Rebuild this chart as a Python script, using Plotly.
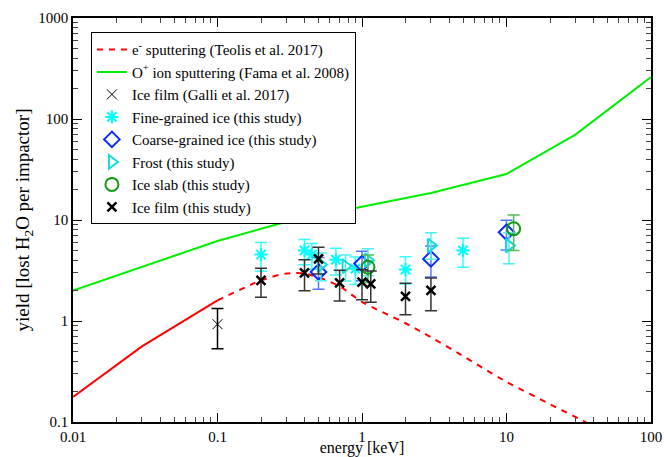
import plotly.graph_objects as go

# --- data ---
fama_x = [0.01, 0.1, 0.3, 1.0, 3.0, 10.0, 30.0, 100.0]
fama_y = [2.0, 6.2, 9.6, 13.5, 18.5, 28.5, 70.0, 260.0]

teolis_solid_x = [0.01, 0.03, 0.1]
teolis_solid_y = [0.177, 0.56, 1.6]
teolis_x = [0.1, 0.15, 0.2, 0.3, 0.4, 0.5, 0.7, 1.0, 2.0, 3.0, 5.0, 8.0, 10.0, 20.0, 35.0, 50.0]
teolis_y = [1.6, 2.1, 2.52, 2.95, 2.95, 2.7, 2.2, 1.55, 0.95, 0.69, 0.45, 0.30, 0.25, 0.15, 0.1, 0.075]

galli_x = [0.1]
galli_y = [0.93]
galli_up = [0.4]
galli_dn = [0.4]

fine_x = [0.2, 0.4, 0.45, 0.66, 0.9, 2.0, 5.0]
fine_y = [4.55, 5.0, 4.55, 4.05, 3.3, 3.23, 5.0]
fine_up = [1.45, 1.4, 1.3, 1.2, 1.0, 1.1, 1.6]
fine_dn = [1.45, 1.4, 1.3, 1.2, 1.0, 0.9, 1.6]

coarse_x = [0.5, 1.0, 3.0, 10.0]
coarse_y = [3.06, 3.7, 4.12, 7.56]
coarse_up = [1.2, 1.2, 1.4, 2.4]
coarse_dn = [1.0, 1.2, 1.4, 2.5]

frost_x = [0.52, 0.77, 1.1, 3.0, 10.4]
frost_y = [3.6, 3.49, 4.0, 5.58, 5.58]
frost_up = [1.1, 1.0, 1.2, 1.9, 1.9]
frost_dn = [1.1, 1.0, 1.2, 1.5, 1.9]

slab_x = [1.1, 11.2]
slab_y = [3.41, 8.2]
slab_up = [1.1, 3.0]
slab_dn = [1.0, 3.2]

film_x = [0.2, 0.4, 0.5, 0.7, 1.0, 1.15, 2.0, 3.0]
film_y = [2.52, 2.99, 4.12, 2.38, 2.42, 2.33, 1.75, 2.01]
film_up = [0.8, 1.05, 1.25, 0.8, 0.8, 0.8, 0.62, 0.65]
film_dn = [0.8, 1.0, 1.2, 0.8, 0.8, 0.8, 0.6, 0.75]

x_ticks = [0.01, 0.1, 1, 10, 100]
x_ticktext = ["0.01", "0.1", "1", "10", "100"]
y_ticks = [0.1, 1, 10, 100, 1000]
y_ticktext = ["0.1", "1", "10", "100", "1000"]
x_minor = [m * 10.0 ** e for e in range(-2, 2) for m in range(2, 10)]
y_minor = [m * 10.0 ** e for e in range(-1, 3) for m in range(2, 10)]

FONT = "Liberation Serif"

fig = go.Figure()

fig.add_trace(go.Scatter(x=teolis_solid_x, y=teolis_solid_y, mode="lines",
                         line=dict(color="#ff0000", width=2), showlegend=False))
fig.add_trace(go.Scatter(x=teolis_x, y=teolis_y, mode="lines", line_shape="spline",
                         line=dict(color="#ff0000", width=2, dash="6px,6px"),
                         name="e<sup>-</sup> sputtering (Teolis et al. 2017)"))
fig.add_trace(go.Scatter(x=fama_x, y=fama_y, mode="lines",
                         line=dict(color="#00ee00", width=2),
                         name="O<sup>+</sup> ion sputtering (Fama et al. 2008)"))


def pts(x, y, up, dn, name, symbol, color, size, lw, ecolor):
    fig.add_trace(go.Scatter(
        x=x, y=y, mode="markers", name=name,
        marker=dict(symbol=symbol, size=size, color=color, line=dict(color=color, width=lw)),
        error_y=dict(type="data", symmetric=False, array=up, arrayminus=dn,
                     color=ecolor, thickness=1.5, width=6)))


pts(galli_x, galli_y, galli_up, galli_dn, "Ice film (Galli et al. 2017)",
    "x-thin-open", "#000000", 10, 1, "#000000")
pts(fine_x, fine_y, fine_up, fine_dn, "Fine-grained ice (this study)",
    "asterisk-open", "#00ffff", 11, 2, "#33ffff")
pts(coarse_x, coarse_y, coarse_up, coarse_dn, "Coarse-grained ice (this study)",
    "diamond-open", "#0a2cff", 12, 2, "#5577ff")
pts(frost_x, frost_y, frost_up, frost_dn, "Frost (this study)",
    "triangle-right-open", "#11dddd", 12, 2, "#55eeee")
pts(slab_x, slab_y, slab_up, slab_dn, "Ice slab (this study)",
    "circle-open", "#119911", 13, 2, "#55bb55")
pts(film_x, film_y, film_up, film_dn, "Ice film (this study)",
    "x-thin-open", "#000000", 9, 2.5, "#333333")


def tick_style(minor_vals):
    return dict(
        type="log", showgrid=False, zeroline=False, ticks="inside", ticklen=9, tickwidth=1.2,
        tickcolor="black", automargin=False,
        minor=dict(tickmode="array", tickvals=minor_vals, ticks="inside", ticklen=5,
                   tickcolor="#444444", tickwidth=1, showgrid=False),
    )


fig.update_layout(
    xaxis=dict(range=[-2, 2], showline=True, linecolor="black", linewidth=1.5, mirror=True,
               tickvals=x_ticks, ticktext=x_ticktext,
               tickfont=dict(family=FONT, size=15, color="black"),
               title=dict(text="energy [keV]", font=dict(family=FONT, size=16), standoff=3),
               **tick_style(x_minor)),
    yaxis=dict(range=[-1, 3], showline=True, linecolor="black", linewidth=1.5, mirror=True,
               tickvals=y_ticks, ticktext=y_ticktext,
               tickfont=dict(family=FONT, size=15, color="black"),
               title=dict(text="yield [lost H<sub>2</sub>O per impactor]",
                          font=dict(family=FONT, size=19), standoff=4),
               **tick_style(y_minor)),
    xaxis2=dict(range=[-2, 2], overlaying="x", side="top", anchor="y", showline=False,
                tickvals=x_ticks, showticklabels=False, **tick_style(x_minor)),
    yaxis2=dict(range=[-1, 3], overlaying="y", side="right", anchor="x", showline=False,
                tickvals=y_ticks, showticklabels=False, **tick_style(y_minor)),
)
# invisible anchor trace so the mirrored tick axes are drawn
fig.add_trace(go.Scatter(x=[x_ticks[0]], y=[y_ticks[0]], xaxis="x2", yaxis="y2",
                         mode="markers", marker=dict(opacity=0), showlegend=False,
                         hoverinfo="skip"))

fig.update_layout(
    width=664, height=457,
    margin=dict(l=73, r=13, t=18, b=35),
    plot_bgcolor="white", paper_bgcolor="white",
    font=dict(family=FONT, size=15, color="black"),
    legend=dict(x=0.031, y=0.965, xanchor="left", yanchor="top",
                bgcolor="white", bordercolor="black", borderwidth=1,
                font=dict(family=FONT, size=15), tracegroupgap=0, itemwidth=30),
)

fig.write_html("out.html", config={"displayModeBar": False},
               post_script="document.body.style.margin='0';document.body.style.overflow='hidden';")
